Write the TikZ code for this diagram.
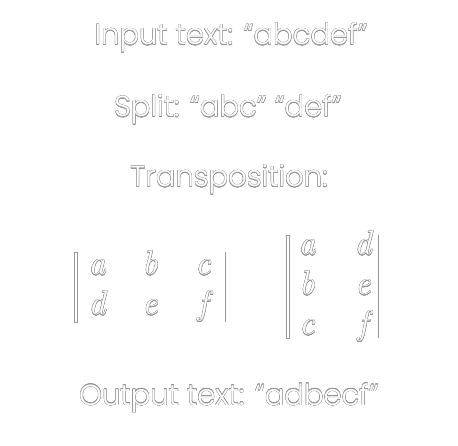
\documentclass[tikz,border=0pt]{standalone}
\usepackage{fontspec}
\setmainfont{Poppins Light}
\newfontfamily\entfont{Latin Modern Roman}
\usepackage{contour}
\contourlength{0.3pt}
\contournumber{16}
\definecolor{edge}{RGB}{150,150,150}
\begin{document}
\begin{tikzpicture}[x=1pt,y=-1pt,
  line/.style={font=\fontsize{29}{34}\selectfont,anchor=base,inner sep=0pt,text=white},
  ent/.style={font=\entfont\itshape\fontsize{34}{40}\selectfont,anchor=base,inner sep=0pt,text=white},
  thinbar/.style={draw=edge,line width=0.5pt},
  thickbar/.style={draw=edge,fill=white,line width=0.5pt}]
\useasboundingbox[fill=white] (0,0) rectangle (458,446);
\node[line] (inp) at (231,45) {\contour{edge}{Input text: “abcdef”}};
\node[line] (spl) at (228,117) {\contour{edge}{Split: “abc” “def”}};
\node[line] (tra) at (229,187) {\contour{edge}{Transposition:}};
\node[line] (out) at (229,405) {\contour{edge}{Output text: “adbecf”}};
% left matrix
\node[ent] (la) at (97,275) {\contour{edge}{a}};
\node[ent] (lb) at (150,275) {\contour{edge}{b}};
\node[ent] (lc) at (203,275) {\contour{edge}{c}};
\node[ent] (ld) at (97,315) {\contour{edge}{d}};
\node[ent] (le) at (150,315) {\contour{edge}{e}};
\node[ent] (lf) at (203,315) {\contour{edge}{f}};
\path[thickbar] (74,252) rectangle (77,322);
\path[thinbar] (225,252) -- (225,322);
% right matrix
\node[ent] (ra) at (307,255) {\contour{edge}{a}};
\node[ent] (rd) at (363,255) {\contour{edge}{d}};
\node[ent] (rb) at (307,295) {\contour{edge}{b}};
\node[ent] (re) at (363,295) {\contour{edge}{e}};
\node[ent] (rc) at (307,335) {\contour{edge}{c}};
\node[ent] (rf) at (363,335) {\contour{edge}{f}};
\path[thickbar] (286,235) rectangle (289,338);
\path[thinbar] (378,235) -- (378,338);
\end{tikzpicture}
\end{document}
